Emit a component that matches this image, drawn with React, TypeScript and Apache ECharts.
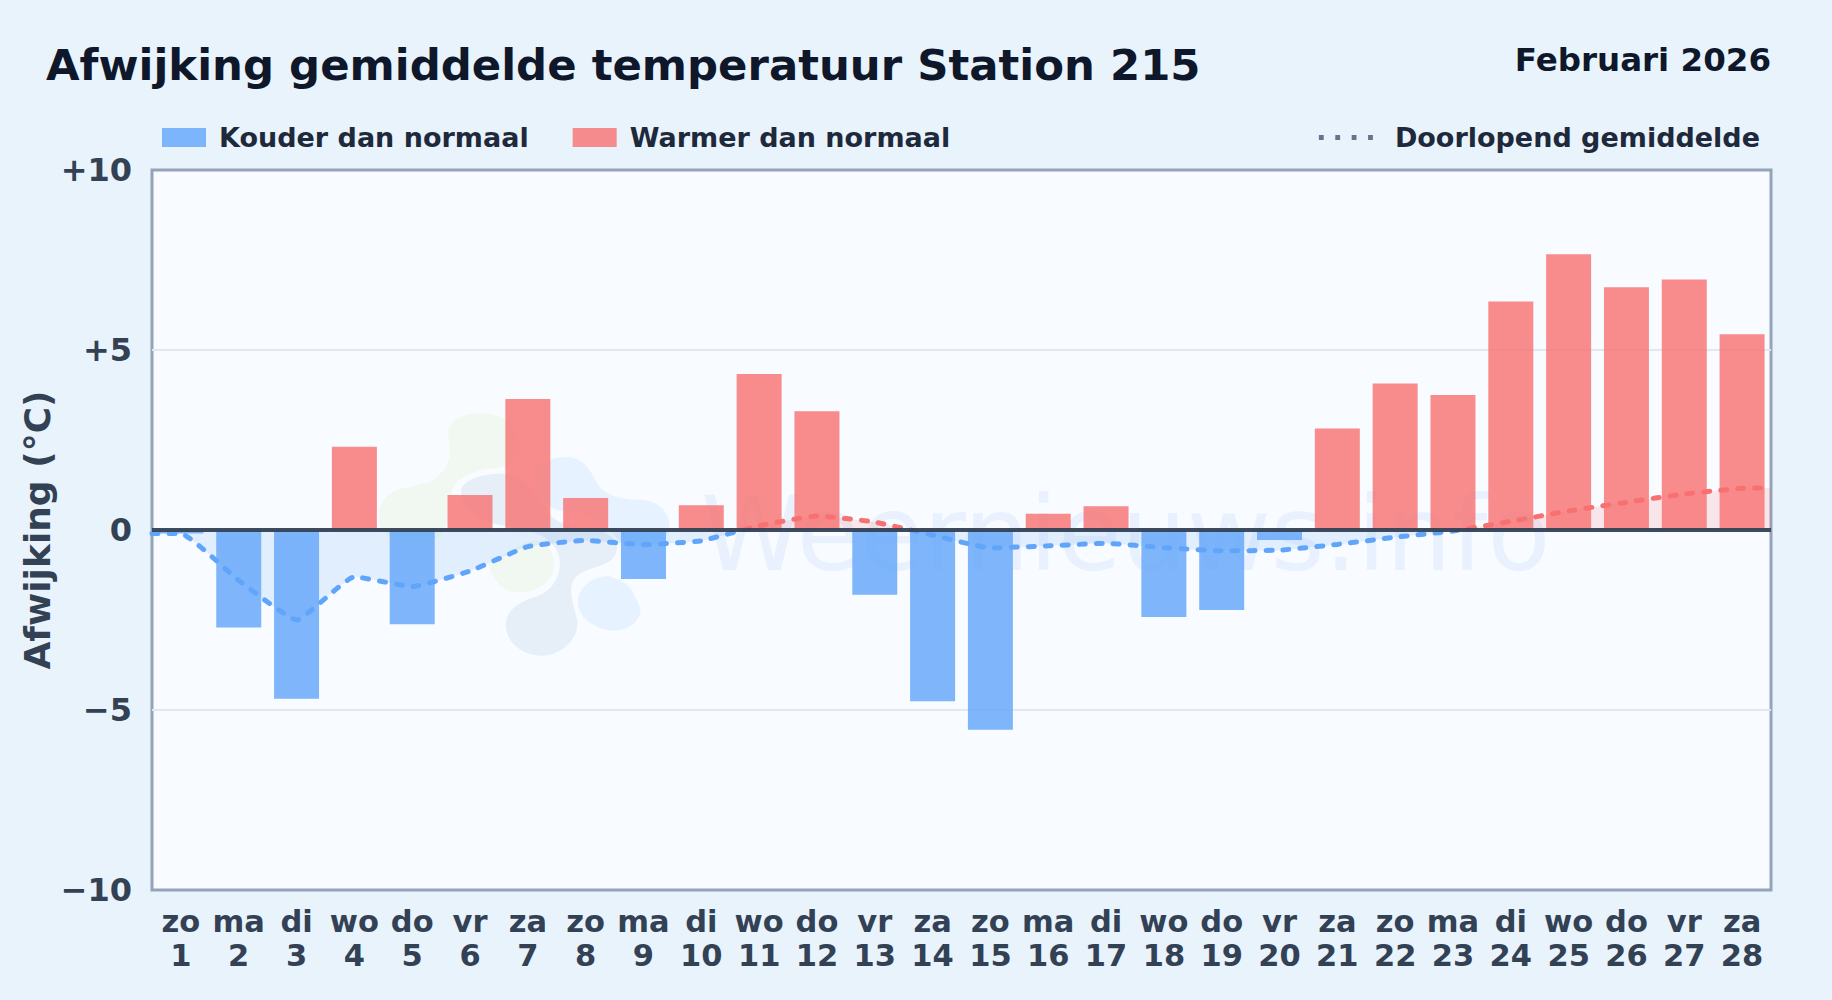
import React, { useEffect, useRef } from "react";
import * as echarts from "echarts";

const weekdays = ["zo","ma","di","wo","do","vr","za","zo","ma","di","wo","do","vr","za","zo","ma","di","wo","do","vr","za","zo","ma","di","wo","do","vr","za"];
const days = ["1","2","3","4","5","6","7","8","9","10","11","12","13","14","15","16","17","18","19","20","21","22","23","24","25","26","27","28"];
const colder = [-0.1,-2.71,-4.69,null,-2.62,null,null,null,-1.36,null,null,null,-1.8,-4.76,-5.55,null,null,-2.42,-2.22,-0.28,null,null,null,null,null,null,null,null];
const warmer = [null,null,null,2.31,null,0.97,3.64,0.89,null,0.69,4.33,3.3,null,null,null,0.45,0.66,null,null,null,2.82,4.07,3.75,6.35,7.66,6.74,6.96,5.44];
const runningMean = [-0.1,-1.4,-2.5,-1.3,-1.57,-1.14,-0.46,-0.29,-0.41,-0.3,0.12,0.39,0.22,-0.14,-0.5,-0.44,-0.37,-0.49,-0.58,-0.56,-0.4,-0.2,-0.03,0.24,0.53,0.77,1.0,1.16];
const runningStart = -0.1;
const runningEnd = 1.17;

const FONT = "DejaVu Sans";
const BLUE = "#60a5fa";
const RED = "#f87171";

const blobs: Record<string, string> = {
  wmGreenA: "M265 100C265 55 320 40 370 40C430 40 480 80 480 150C480 190 440 200 400 205C340 212 290 230 275 275C262 320 270 380 240 410C190 440 90 440 60 380C50 340 60 290 110 270C150 258 190 255 220 240C250 220 268 190 270 160C272 140 265 120 265 100Z",
  wmGreenB: "M385 490C430 470 500 410 540 425C575 440 590 480 580 515C565 565 500 585 455 575C420 565 395 530 385 490Z",
  wmSlate: "M305 265C320 235 380 220 430 222C490 225 530 270 560 330C590 380 660 385 720 392C770 410 785 440 760 475C730 505 680 500 650 530C620 560 640 610 652 660C660 720 600 768 545 768C490 768 438 730 438 675C438 630 480 605 530 590C575 575 605 530 600 480C595 430 540 395 480 385C420 375 360 370 325 330C310 310 300 285 305 265Z",
  wmBlueA: "M530 210C550 180 590 170 630 172C680 180 695 220 715 255C740 290 790 300 850 300C900 305 930 340 930 380C930 420 880 450 820 440C770 430 760 390 710 360C660 335 600 340 570 320C530 290 515 240 530 210Z",
  wmBlueB: "M655 600C660 555 710 525 750 530C790 540 815 560 825 590C835 610 845 625 842 640C830 680 790 695 750 692C700 685 650 650 655 600Z",
};
Object.keys(blobs).forEach((k) => {
  echarts.graphic.registerShape(k, echarts.graphic.extendPath(blobs[k] as any, {}) as any);
});

const blobFill: Record<string, string> = {
  wmGreenA: "rgba(132,204,22,0.06)",
  wmGreenB: "rgba(132,204,22,0.06)",
  wmSlate: "rgba(30,90,160,0.08)",
  wmBlueA: "rgba(56,160,250,0.09)",
  wmBlueB: "rgba(56,160,250,0.09)",
};

const DOTS_ICON = "path://M0 0h5v5H0zM17 0h5v5h-5zM34 0h5v5h-5zM51 0h5v5h-5z";

export default function App() {
  const ref = useRef<HTMLDivElement>(null);
  useEffect(() => {
    const chart = echarts.init(ref.current!, null, { renderer: "svg" });
    chart.setOption({
      animation: false,
      backgroundColor: "#e8f3fc",
      textStyle: { fontFamily: FONT },
      title: [
        { text: "Afwijking gemiddelde temperatuur Station 215", left: 46, top: 43, padding: 0, textStyle: { fontFamily: FONT, fontWeight: "bold", fontSize: 43.4, color: "#0f172a" } },
        { text: "Februari 2026", right: 61, top: 43, padding: 0, textStyle: { fontFamily: FONT, fontWeight: "bold", fontSize: 32.5, color: "#0f172a" } },
      ],
      legend: [
        {
          left: 162, top: 124, padding: 0, itemWidth: 44, itemHeight: 19, itemGap: 44,
          icon: "rect",
          data: ["Kouder dan normaal", "Warmer dan normaal"],
          selectedMode: false,
          textStyle: { fontFamily: FONT, fontWeight: "bold", fontSize: 27, color: "#1e293b", padding: [0, 0, 0, 8] },
        },
        {
          right: 72, top: 124, padding: 0, itemWidth: 54, itemHeight: 5,
          data: [{ name: "Doorlopend gemiddelde", icon: DOTS_ICON, itemStyle: { color: "#64748b" } }],
          selectedMode: false,
          textStyle: { fontFamily: FONT, fontWeight: "bold", fontSize: 27, color: "#1e293b", padding: [0, 0, 0, 17] },
        },
      ],
      grid: { left: 152, top: 170, right: 61, bottom: 110, show: true, backgroundColor: "#f8fbff", borderColor: "#94a3b8", borderWidth: 3 },
      xAxis: [
        {
          type: "category",
          data: weekdays.map((w, i) => w + "\n" + days[i]),
          position: "bottom",
          axisLine: { show: false, onZero: false },
          axisTick: { show: false },
          axisLabel: { interval: 0, margin: 14, fontFamily: FONT, fontWeight: "bold", fontSize: 30.5, lineHeight: 34, color: "#334155" },
        },
        { type: "value", min: 0.5, max: 28.5, show: false, position: "top" },
      ],
      yAxis: {
        type: "value", min: -10, max: 10, interval: 5,
        name: "Afwijking (°C)", nameLocation: "middle", nameGap: 97, nameRotate: 90, nameMoveOverlap: false,
        nameTextStyle: { fontFamily: FONT, fontWeight: "bold", fontSize: 36, color: "#334155" },
        axisLine: { show: false },
        axisTick: { show: false },
        splitLine: { showMinLine: false, showMaxLine: false, lineStyle: { color: "#e2e8f0", width: 2 } },
        axisLabel: {
          margin: 20, fontFamily: FONT, fontWeight: "bold", fontSize: 32, color: "#334155",
          formatter: (v: number) => (v > 0 ? "+" + v : v < 0 ? "\u2212" + -v : "0"),
        },
      },
      visualMap: {
        type: "piecewise", show: false, dimension: 1, seriesIndex: 2,
        pieces: [{ min: -10, max: 0, color: BLUE }, { min: 0, max: 10, color: RED }],
      },
      graphic: [
        ...Object.keys(blobs).map((k) => ({
          type: k, x: 360, y: 400, scaleX: 1 / 3, scaleY: 1 / 3, z: 1, silent: true,
          style: { fill: blobFill[k] },
        })),
        {
          type: "text", x: 701, y: 585, z: 1, silent: true,
          style: { text: "Weernieuws.info", fontSize: 103, fontFamily: FONT, fill: "rgba(59,130,246,0.08)", verticalAlign: "bottom" },
        },
      ],
      series: [
        {
          name: "Kouder dan normaal", type: "bar", data: colder, barWidth: 45, barGap: "-100%",
          itemStyle: { color: BLUE, opacity: 0.8 }, z: 2,
        },
        {
          name: "Warmer dan normaal", type: "bar", data: warmer, barWidth: 45, barGap: "-100%",
          itemStyle: { color: RED, opacity: 0.8 }, z: 2,
          markLine: {
            silent: true, symbol: "none", label: { show: false },
            lineStyle: { color: "#334155", width: 4, type: "solid", opacity: 0.95 },
            data: [{ yAxis: 0 }],
          },
        },
        {
          name: "Doorlopend gemiddelde", type: "line", xAxisIndex: 1, z: 3,
          data: [[0.5, runningStart], ...runningMean.map((v, i) => [i + 1, v]), [28.5, runningEnd]],
          showSymbol: false, symbol: "none", smooth: 0.12,
          lineStyle: { width: 5, type: [6, 11], cap: "round" },
          areaStyle: { origin: 0, opacity: 0.15 },
        },
      ],
    });
    return () => chart.dispose();
  }, []);
  return <div ref={ref} style={{ position: "fixed", left: 0, top: 0, width: 1832, height: 1000 }} />;
}
